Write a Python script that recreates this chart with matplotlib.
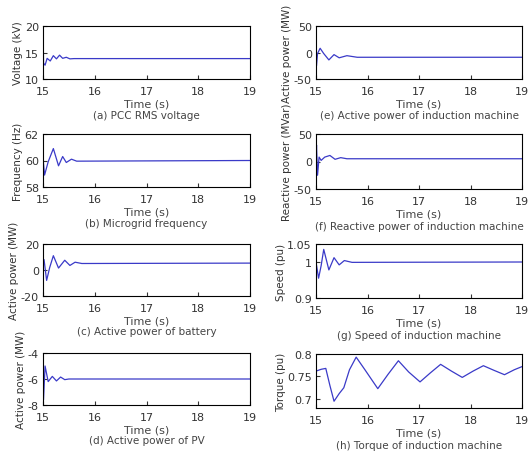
import matplotlib
matplotlib.use("Agg")
import matplotlib.pyplot as plt

# (a) PCC RMS voltage
t_a = [15.0, 15.005, 15.01, 15.04, 15.08, 15.14, 15.2, 15.26, 15.32, 15.38, 15.45, 15.52, 15.6, 19.0]
v_a = [13.8, 17.2, 13.0, 12.6, 13.9, 13.4, 14.4, 13.8, 14.5, 13.9, 14.1, 13.8, 13.85, 13.85]

# (b) Microgrid frequency
t_b = [15.0, 15.03, 15.1, 15.2, 15.3, 15.38, 15.45, 15.55, 15.65, 19.0]
v_b = [60.2, 58.9, 59.9, 60.9, 59.6, 60.3, 59.85, 60.1, 59.95, 60.0]

# (c) Active power of battery
t_c = [15.0, 15.02, 15.07, 15.13, 15.2, 15.3, 15.42, 15.52, 15.62, 15.75, 19.0]
v_c = [5.0, 8.0, -8.0, 2.0, 11.0, 1.5, 7.5, 3.5, 6.0, 5.0, 5.3]

# (d) Active power of PV
t_d = [15.0, 15.01, 15.04, 15.1, 15.18, 15.26, 15.34, 15.42, 15.5, 19.0]
v_d = [-6.0, -7.6, -5.0, -6.2, -5.8, -6.15, -5.85, -6.05, -6.0, -6.0]

# (e) Active power of induction machine
t_e = [15.0, 15.01, 15.03, 15.08, 15.15, 15.25, 15.35, 15.45, 15.6, 15.8, 19.0]
v_e = [-5.0, -25.0, -2.0, 8.0, -2.0, -14.0, -4.0, -10.0, -6.0, -9.0, -9.0]

# (f) Reactive power of induction machine
t_f = [15.0, 15.01, 15.03, 15.06, 15.1, 15.17, 15.27, 15.37, 15.48, 15.6, 19.0]
v_f = [5.0, 30.0, -25.0, 8.0, 2.0, 8.0, 11.0, 4.0, 7.0, 5.0, 5.0]

# (g) Speed of induction machine
t_g = [15.0, 15.05, 15.1, 15.15, 15.25, 15.35, 15.45, 15.55, 15.7, 19.0]
v_g = [1.0, 0.955, 0.99, 1.035, 0.978, 1.012, 0.992, 1.004, 0.999, 1.0]

# (h) Torque of induction machine
t_h = [15.0, 15.1, 15.19, 15.27, 15.35, 15.45, 15.54, 15.65, 15.78, 15.95, 16.2,
       16.4, 16.6, 16.8, 17.02, 17.22, 17.42, 17.63, 17.84, 18.05, 18.25, 18.45,
       18.66, 18.85, 19.0]
v_h = [0.762, 0.766, 0.768, 0.73, 0.695, 0.712, 0.725, 0.765, 0.793, 0.765, 0.723,
       0.755, 0.785, 0.76, 0.738, 0.758, 0.777, 0.762, 0.748, 0.762, 0.774, 0.764,
       0.754, 0.765, 0.772]

panels = [
    (t_a, v_a, "Voltage (kV)", (10, 20), [10, 15, 20], ["10", "15", "20"], "(a) PCC RMS voltage"),
    (t_b, v_b, "Frequency (Hz)", (58, 62), [58, 60, 62], ["58", "60", "62"], "(b) Microgrid frequency"),
    (t_c, v_c, "Active power (MW)", (-20, 20), [-20, 0, 20], ["-20", "0", "20"], "(c) Active power of battery"),
    (t_d, v_d, "Active power (MW)", (-8, -4), [-8, -6, -4], ["-8", "-6", "-4"], "(d) Active power of PV"),
    (t_e, v_e, "Active power (MW)", (-50, 50), [-50, 0, 50], ["-50", "0", "50"], "(e) Active power of induction machine"),
    (t_f, v_f, "Reactive power (MVar)", (-50, 50), [-50, 0, 50], ["-50", "0", "50"], "(f) Reactive power of induction machine"),
    (t_g, v_g, "Speed (pu)", (0.9, 1.05), [0.9, 1, 1.05], ["0.9", "1", "1.05"], "(g) Speed of induction machine"),
    (t_h, v_h, "Torque (pu)", (0.68, 0.8), [0.7, 0.75, 0.8], ["0.7", "0.75", "0.8"], "(h) Torque of induction machine"),
]

W, H = 528, 452
fig = plt.figure(figsize=(W / 100, H / 100), dpi=100)

cajas = [
    (43, 27, 250, 80), (43, 135, 250, 188), (43, 245, 250, 297), (43, 354, 250, 406),
    (316, 27, 522, 80), (316, 135, 522, 190), (316, 245, 522, 299), (316, 355, 522, 409),
]

for (t, v, ylab, ylim, yt, ytl, cap), (l, tp, r, b) in zip(panels, cajas):
    ax = fig.add_axes([l / W, 1 - b / H, (r - l) / W, (b - tp) / H])
    ax.plot(t, v, color="#3a3ac8", lw=0.9)
    ax.set_xlim(15, 19)
    ax.set_ylim(*ylim)
    ax.set_xticks([15, 16, 17, 18, 19])
    ax.set_yticks(yt)
    ax.set_yticklabels(ytl)
    ax.tick_params(labelsize=8, length=3, direction="in", colors="#333333")
    ax.tick_params(axis="x", pad=5)
    ax.tick_params(axis="y", pad=3)
    ax.set_xlabel("Time (s)", fontsize=8, labelpad=2, color="#444444")
    ax.set_ylabel(ylab, fontsize=7.5, labelpad=1, color="#333333")
    for s in ax.spines.values():
        s.set_linewidth(0.8)
    ax.text(0.5, -0.68, cap, transform=ax.transAxes, ha="center", va="center",
            fontsize=7.5, color="#444444")

fig.savefig("out.png", dpi=100)
